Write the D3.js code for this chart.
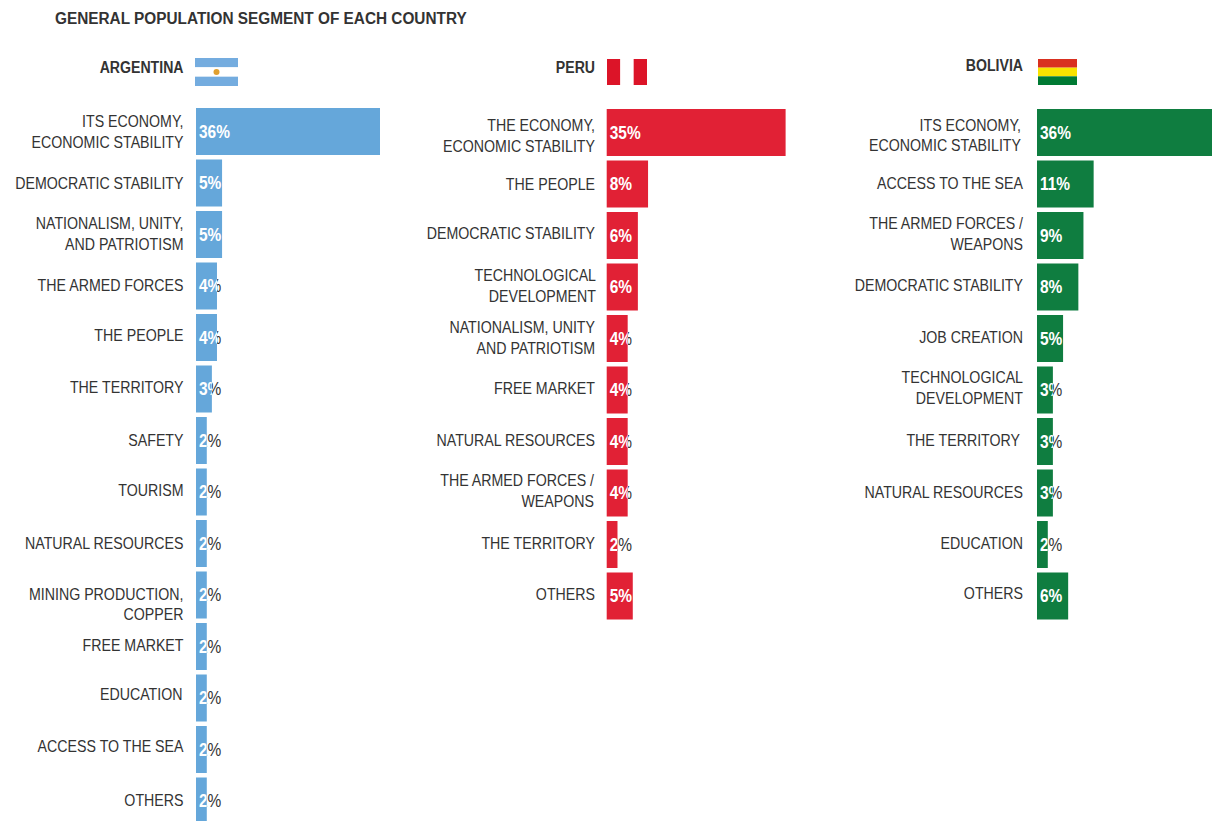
<!DOCTYPE html>
<html>
<head>
<meta charset="utf-8">
<script src="https://cdn.jsdelivr.net/npm/d3@7"></script>
<style>
  body { margin: 0; background: #fff; }
  svg { display: block; font-family: "Liberation Sans", Arial, sans-serif; }
</style>
</head>
<body>
<div id="chart"></div>
<script>
const chartTitle = "GENERAL POPULATION SEGMENT OF EACH COUNTRY";

// "|" marks a line break in a label
const argentinaLabels = ["ITS ECONOMY,|ECONOMIC STABILITY", "DEMOCRATIC STABILITY", "NATIONALISM, UNITY,|AND PATRIOTISM", "THE ARMED FORCES", "THE PEOPLE", "THE TERRITORY", "SAFETY", "TOURISM", "NATURAL RESOURCES", "MINING PRODUCTION,|COPPER", "FREE MARKET", "EDUCATION", "ACCESS TO THE SEA", "OTHERS"];
const argentinaValues = [36, 5, 5, 4, 4, 3, 2, 2, 2, 2, 2, 2, 2, 2];

const peruLabels = ["THE ECONOMY,|ECONOMIC STABILITY", "THE PEOPLE", "DEMOCRATIC STABILITY", "TECHNOLOGICAL|DEVELOPMENT", "NATIONALISM, UNITY|AND PATRIOTISM", "FREE MARKET", "NATURAL RESOURCES", "THE ARMED FORCES /|WEAPONS", "THE TERRITORY", "OTHERS"];
const peruValues = [35, 8, 6, 6, 4, 4, 4, 4, 2, 5];

const boliviaLabels = ["ITS ECONOMY,|ECONOMIC STABILITY", "ACCESS TO THE SEA", "THE ARMED FORCES /|WEAPONS", "DEMOCRATIC STABILITY", "JOB CREATION", "TECHNOLOGICAL|DEVELOPMENT", "THE TERRITORY", "NATURAL RESOURCES", "EDUCATION", "OTHERS"];
const boliviaValues = [36, 11, 9, 8, 5, 3, 3, 3, 2, 6];

const width = 1212;
const height = 821;
const rowStep = 51.5;
const rowGap = 4.5;
const textColor = "#333";

// no narrow font installed, so squeeze the text horizontally
const narrow = (x, y, sx) => `translate(${x},${y}) scale(${sx},1)`;

const svg = d3.select("#chart").append("svg")
  .attr("width", width)
  .attr("height", height);

const defs = svg.append("defs");

svg.append("text")
  .attr("transform", narrow(55, 24, 0.904))
  .attr("font-size", 17)
  .attr("font-weight", "bold")
  .attr("fill", textColor)
  .text(chartTitle);

function drawFlag(g, flag) {
  if (flag.dir === "h") {
    const y = d3.scaleBand().domain(d3.range(flag.colors.length)).range([0, flag.h]);
    g.selectAll("rect").data(flag.colors).enter().append("rect")
      .attr("y", (d, i) => y(i))
      .attr("width", flag.w)
      .attr("height", y.bandwidth())
      .attr("fill", (d) => d);
  } else {
    const x = d3.scaleBand().domain(d3.range(flag.colors.length)).range([0, flag.w]);
    g.selectAll("rect").data(flag.colors).enter().append("rect")
      .attr("x", (d, i) => x(i))
      .attr("width", x.bandwidth())
      .attr("height", flag.h)
      .attr("fill", (d) => d);
  }
  if (flag.sun) {
    g.append("circle")
      .attr("cx", flag.w / 2)
      .attr("cy", flag.h / 2)
      .attr("r", 3)
      .attr("fill", flag.sun);
  }
}

function drawPanel(panel, index) {
  const g = svg.append("g").attr("class", "panel");
  const rows = panel.labels.map((label, i) => ({ label, value: panel.values[i], i }));

  const y = d3.scaleBand()
    .domain(d3.range(rows.length))
    .range([panel.top, panel.top + rowStep * rows.length - rowGap])
    .paddingInner(rowGap / rowStep)
    .paddingOuter(0);

  // 36% is about 184px wide in the source, small bars come out a touch wider
  const x = d3.scaleLinear().domain([0, 36]).range([panel.x0 + 0.6, panel.x0 + 184]);
  const barWidth = (d) => x(d.value) - panel.x0;
  const valueY = (d) => y(d.i) + y.bandwidth() / 2 + 6;

  g.append("text")
    .attr("transform", narrow(panel.labelX, panel.nameY, 0.83))
    .attr("text-anchor", "end")
    .attr("font-size", 17)
    .attr("font-weight", "bold")
    .attr("fill", textColor)
    .text(panel.name);

  const flag = g.append("g").attr("transform", `translate(${panel.flag.x},${panel.flag.y})`);
  drawFlag(flag, panel.flag);

  const row = g.selectAll(".row").data(rows).enter().append("g").attr("class", "row");

  // category labels, split on "|". a few sit off-centre in the source
  const label = row.append("text")
    .attr("transform", (d) => {
      const nudge = panel.nudges[d.i] || [0, 0];
      return narrow(panel.labelX + nudge[0], nudge[1], 0.835);
    })
    .attr("text-anchor", "end")
    .attr("font-size", 17)
    .attr("fill", textColor);
  label.each(function (d) {
    const lines = d.label.split("|");
    const mid = y(d.i) + y.bandwidth() / 2;
    d3.select(this).selectAll("tspan").data(lines).enter().append("tspan")
      .attr("x", 0)
      .attr("y", (l, k) => mid + 5 + (k - (lines.length - 1) / 2) * 20.5);
  });
  label.selectAll("tspan").text((l) => l);

  // value text: dark under the bar edge, white clipped to the bar
  row.append("text")
    .attr("transform", (d) => narrow(panel.x0 + 3, valueY(d), 0.86))
    .attr("font-size", 18)
    .attr("fill", textColor)
    .text((d) => d.value + "%");

  const clipId = (d) => `clip-${index}-${d.i}`;
  defs.selectAll(`.clip-${index}`).data(rows).enter().append("clipPath")
    .attr("class", `clip-${index}`)
    .attr("id", clipId)
    .append("rect")
    .attr("x", panel.x0)
    .attr("y", (d) => y(d.i))
    .attr("width", barWidth)
    .attr("height", y.bandwidth());

  // bar goes over the dark text, then the white label on top
  row.append("rect")
    .attr("x", panel.x0)
    .attr("y", (d) => y(d.i))
    .attr("width", barWidth)
    .attr("height", y.bandwidth())
    .attr("fill", panel.color);

  row.append("g")
    .attr("clip-path", (d) => `url(#${clipId(d)})`)
    .append("text")
    .attr("transform", (d) => narrow(panel.x0 + 3, valueY(d), 0.86))
    .attr("font-size", 18)
    .attr("font-weight", "bold")
    .attr("fill", "#fff")
    .text((d) => d.value + "%");
}

const panels = [
  {
    name: "ARGENTINA", labels: argentinaLabels, values: argentinaValues, color: "#65a7da",
    x0: 196, top: 108, labelX: 183.5, nameY: 73,
    nudges: { 0: [0, 1], 1: [0, 1], 4: [0, -1], 5: [0, -1], 6: [0, 1], 7: [0, -1], 8: [0, 1], 9: [0, 10], 11: [-1, -3], 12: [0, -2] },
    flag: { x: 195, y: 58, w: 43, h: 28, dir: "h", colors: ["#74acdf", "#fff", "#74acdf"], sun: "#e0a030" }
  },
  {
    name: "PERU", labels: peruLabels, values: peruValues, color: "#e12135",
    x0: 606.7, top: 109, labelX: 595, nameY: 73,
    nudges: { 0: [0, 4], 1: [0, 1], 2: [0, -1], 3: [1, -0.5], 5: [0, -1], 7: [-1, -1.5], 9: [0, -1] },
    flag: { x: 607, y: 59, w: 40, h: 26, dir: "v", colors: ["#dc1428", "#fff", "#dc1428"] }
  },
  {
    name: "BOLIVIA", labels: boliviaLabels, values: boliviaValues, color: "#0f7d40",
    x0: 1037, top: 109, labelX: 1023, nameY: 71,
    nudges: { 0: [-2, 3.5], 2: [0, -1], 3: [0, -1], 5: [0, -1.5], 6: [-3, 0], 7: [0, 0.5], 9: [0, -2] },
    flag: { x: 1038, y: 59, w: 39, h: 26, dir: "h", colors: ["#d93020", "#f9e300", "#007a33"] }
  }
];

panels.forEach(drawPanel);
</script>
</body>
</html>
